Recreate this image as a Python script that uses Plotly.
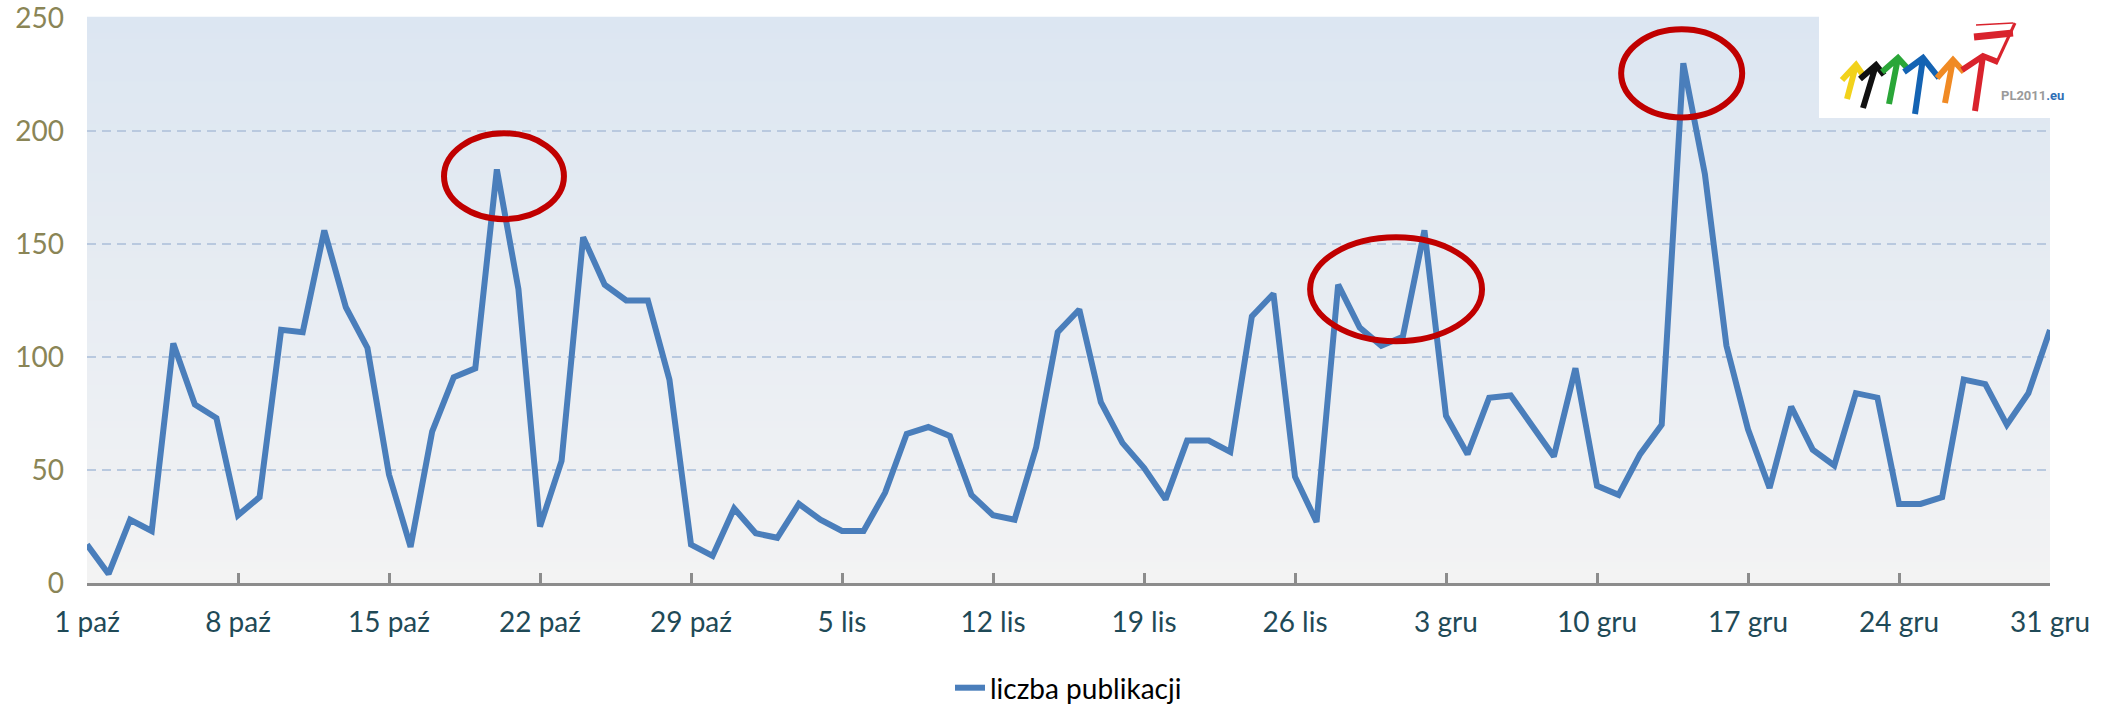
import pandas as pd
import plotly.graph_objects as go

# ---------------- data ----------------
dates = pd.date_range("2011-10-01", "2011-12-31", freq="D")
publications = [
    17, 4, 28, 23, 106, 79, 73, 30, 38, 112,
    111, 156, 122, 104, 48, 16, 67, 91, 95, 183,
    130, 25, 54, 153, 132, 125, 125, 90, 17, 12,
    33, 22, 20, 35, 28, 23, 23, 40, 66, 69,
    65, 39, 30, 28, 60, 111, 121, 80, 62, 51,
    37, 63, 63, 58, 118, 128, 47, 27, 132, 113,
    105, 109, 156, 74, 57, 82, 83, 69, 56, 95,
    43, 39, 57, 70, 230, 181, 105, 68, 42, 78,
    59, 52, 84, 82, 35, 35, 38, 90, 88, 70,
    84, 112,
]
tick_dates = ["2011-10-01", "2011-10-08", "2011-10-15", "2011-10-22", "2011-10-29",
              "2011-11-05", "2011-11-12", "2011-11-19", "2011-11-26", "2011-12-03",
              "2011-12-10", "2011-12-17", "2011-12-24", "2011-12-31"]
tick_labels = ["1 paź", "8 paź", "15 paź", "22 paź", "29 paź",
               "5 lis", "12 lis", "19 lis", "26 lis", "3 gru",
               "10 gru", "17 gru", "24 gru", "31 gru"]
y_ticks = [0, 50, 100, 150, 200, 250]
series_name = "liczba publikacji"

# highlighted regions: (start day offset, end day offset, y low, y high)
highlights = [(16.55, 22.11, 161, 199), (56.70, 64.67, 107, 153), (71.12, 76.73, 206, 245)]

# ---------------- layout constants ----------------
W, H = 2121, 708
ML, MR, MT, MB = 87, 71, 18, 125
PW, PH = W - ML - MR, H - MT - MB
FONT = "Lato"


def px2paper(px, py):
    return (px - ML) / PW, (H - MB - py) / PH


fig = go.Figure()
fig.add_trace(go.Scatter(
    x=dates, y=publications, mode="lines", name=series_name,
    line=dict(color="#4A7EBB", width=6),
))

shapes = []
# gradient background
top = (220, 230, 242)
bot = (243, 243, 243)
N = 80
for i in range(N):
    t = (i + 0.5) / N
    c = tuple(round(bot[k] + (top[k] - bot[k]) * t) for k in range(3))
    shapes.append(dict(type="rect", xref="paper", yref="paper",
                       x0=0, x1=1, y0=i / N, y1=(i + 1) / N + 0.002,
                       fillcolor="rgb(%d,%d,%d)" % c, line=dict(width=0), layer="below"))

# red highlight ellipses
t0 = pd.Timestamp("2011-10-01")
for a, b, lo, hi in highlights:
    shapes.append(dict(type="circle", xref="x", yref="y",
                       x0=t0 + pd.Timedelta(days=a), x1=t0 + pd.Timedelta(days=b),
                       y0=lo, y1=hi, line=dict(color="#C00000", width=6), layer="above"))

# logo white box
bx0, by0 = px2paper(1819, 118)
bx1, by1 = px2paper(W, 0)
shapes.append(dict(type="rect", xref="paper", yref="paper", x0=bx0, x1=bx1, y0=by0, y1=by1,
                   fillcolor="white", line=dict(width=0), layer="above"))

arrows = [
    ("#F2D21B", (1847, 99), (1856, 65), (1842, 80), (1863, 75)),
    ("#111111", (1863, 108), (1876, 65), (1860, 79), (1884, 75)),
    ("#2AA638", (1889, 104), (1898, 58), (1882, 72), (1909, 70)),
    ("#1463B3", (1915, 114), (1923, 58), (1904, 72), (1939, 78)),
    ("#F08A24", (1945, 103), (1953, 60), (1937, 78), (1964, 72)),
    ("#D9232D", (1975, 111), (1983, 56), (1962, 70), (1998, 62)),
]
for col, b, tp, hl, hr in arrows:
    pts = [px2paper(*p) for p in (b, tp)]
    path = "M %f %f L %f %f" % (pts[0][0], pts[0][1], pts[1][0], pts[1][1])
    hp = [px2paper(*p) for p in (hl, tp, hr)]
    path += " M %f %f L %f %f L %f %f" % (hp[0][0], hp[0][1], hp[1][0], hp[1][1], hp[2][0], hp[2][1])
    shapes.append(dict(type="path", xref="paper", yref="paper", path=path,
                       line=dict(color=col, width=6), layer="above"))
# flag
fp = [px2paper(*p) for p in ((1996, 64), (2015, 23))]
shapes.append(dict(type="path", xref="paper", yref="paper",
                   path="M %f %f L %f %f" % (fp[0][0], fp[0][1], fp[1][0], fp[1][1]),
                   line=dict(color="#D9232D", width=3), layer="above"))
fl = [px2paper(*p) for p in ((1974, 37), (2013, 33))]
shapes.append(dict(type="path", xref="paper", yref="paper",
                   path="M %f %f L %f %f" % (fl[0][0], fl[0][1], fl[1][0], fl[1][1]),
                   line=dict(color="#D9232D", width=7), layer="above"))
ft = [px2paper(*p) for p in ((1976, 25), (2013, 23))]
shapes.append(dict(type="path", xref="paper", yref="paper",
                   path="M %f %f L %f %f" % (ft[0][0], ft[0][1], ft[1][0], ft[1][1]),
                   line=dict(color="#D9232D", width=1.5), layer="above"))

lx, ly = px2paper(1999, 95)
annotations = [dict(xref="paper", yref="paper", x=lx, y=ly, xanchor="left", yanchor="middle",
                    text="<b><span style='color:#9A9A9A'>PL2011</span><span style='color:#2F6FB5'>.eu</span></b>",
                    showarrow=False, font=dict(family="Roboto", size=13))]

fig.update_layout(
    width=W, height=H,
    margin=dict(l=ML, r=MR, t=MT, b=MB, pad=0, autoexpand=False),
    paper_bgcolor="white", plot_bgcolor="rgba(0,0,0,0)",
    font=dict(family=FONT),
    shapes=shapes, annotations=annotations,
    showlegend=True, hovermode=False,
    legend=dict(orientation="h", x=0.5, xanchor="center", y=(H - MB - 688) / PH, yanchor="middle",
                font=dict(family=FONT, size=28, color="#000000"), bgcolor="rgba(0,0,0,0)"),
    xaxis=dict(
        range=[dates[0], dates[-1]], automargin=False,
        tickvals=pd.to_datetime(tick_dates), ticktext=tick_labels,
        showgrid=False, zeroline=False,
        showline=True, linecolor="#8C8C8C", linewidth=3,
        ticks="inside", ticklen=10, tickwidth=3, tickcolor="#8C8C8C",
        tickfont=dict(family=FONT, size=28, color="#1F4A57"),
        ticklabelstandoff=12, ticklabeloverflow="allow",
    ),
    yaxis=dict(
        range=[0, 250], tickvals=y_ticks, automargin=False,
        showgrid=True, gridcolor="#B9C9DF", gridwidth=2, griddash="9px,6px",
        zeroline=False, showline=False, ticks="",
        tickfont=dict(family=FONT, size=28, color="#8A8556"),
        ticklabelstandoff=22, ticklabeloverflow="allow",
    ),
)

fig.write_html("out.html", config={"displayModeBar": False},
               post_script="document.body.style.margin='0';document.body.style.overflow='hidden';")
